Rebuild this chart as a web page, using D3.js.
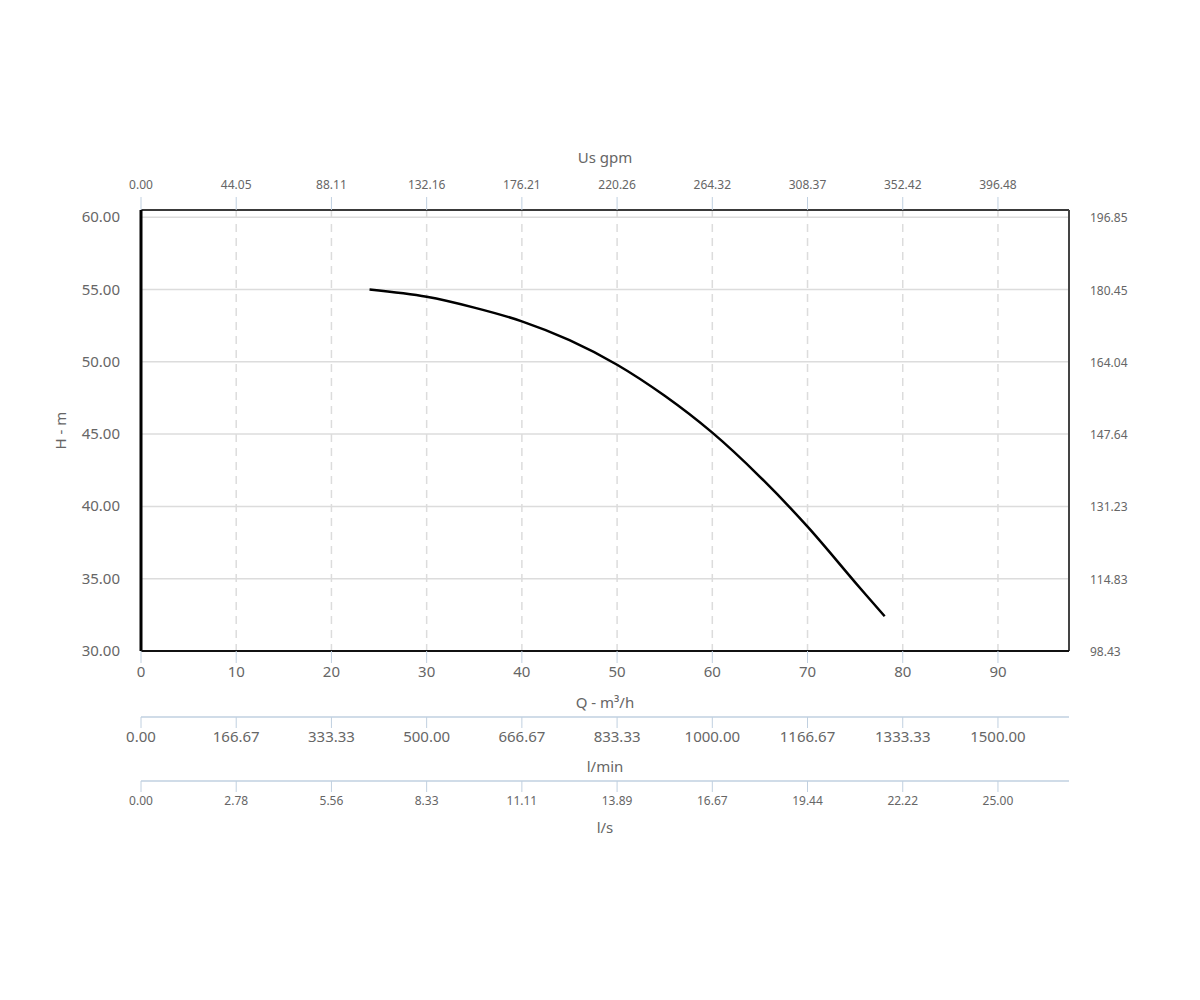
<!DOCTYPE html>
<html>
<head>
<meta charset="utf-8">
<script src="https://cdn.jsdelivr.net/npm/d3@7"></script>
<style>
  body { margin: 0; background: #fff; }
  text { font-family: "Noto Sans", "Open Sans", sans-serif; fill: #666; }
</style>
</head>
<body>
<div id="chart"></div>
<script>
// pump curve, Q in m3/h, H in m
const flow = [24, 30, 35, 40, 45, 50, 55, 60, 65, 70, 75, 78.1];
const head = [55.0, 54.5, 53.75, 52.8, 51.5, 49.8, 47.65, 45.1, 42.05, 38.6, 34.75, 32.4];

const qTicks = [0, 10, 20, 30, 40, 50, 60, 70, 80, 90];
const hTicks = [30, 35, 40, 45, 50, 55, 60];
const gpmLabels = ["0.00", "44.05", "88.11", "132.16", "176.21", "220.26", "264.32", "308.37", "352.42", "396.48"];
const lminLabels = ["0.00", "166.67", "333.33", "500.00", "666.67", "833.33", "1000.00", "1166.67", "1333.33", "1500.00"];
const lsLabels = ["0.00", "2.78", "5.56", "8.33", "11.11", "13.89", "16.67", "19.44", "22.22", "25.00"];
const ftLabels = ["98.43", "114.83", "131.23", "147.64", "164.04", "180.45", "196.85"];

const width = 1200, height = 1000;
const plotL = 141, plotR = 1069, plotT = 210, plotB = 651;
const blue = "#c0d0e0";

const svg = d3.select("#chart").append("svg")
    .attr("width", width)
    .attr("height", height);

const x = d3.scaleLinear().domain([0, 97.46]).range([plotL, plotR]);
const y = d3.scaleLinear().domain([30, 60.5]).range([plotB, plotT]);

// grid
svg.append("g").selectAll("line")
    .data(hTicks)
    .enter().append("line")
    .attr("x1", plotL).attr("x2", plotR)
    .attr("y1", d => y(d)).attr("y2", d => y(d))
    .attr("stroke", "#dcdcdc").attr("stroke-width", 1.5);

svg.append("g").selectAll("line")
    .data(qTicks.slice(1))
    .enter().append("line")
    .attr("x1", d => x(d)).attr("x2", d => x(d))
    .attr("y1", plotT).attr("y2", plotB)
    .attr("stroke", "#dcdcdc").attr("stroke-width", 1.5)
    .attr("stroke-dasharray", "8,6");

// frame
svg.append("line").attr("x1", plotL).attr("x2", plotR).attr("y1", plotT).attr("y2", plotT)
    .attr("stroke", "#3a3a3a").attr("stroke-width", 2);
svg.append("line").attr("x1", plotR).attr("x2", plotR).attr("y1", plotT).attr("y2", plotB)
    .attr("stroke", "#444").attr("stroke-width", 2);

// curve
const line = d3.line()
    .x(d => x(d[0]))
    .y(d => y(d[1]))
    .curve(d3.curveCatmullRom);

svg.append("path")
    .datum(d3.zip(flow, head))
    .attr("d", line)
    .attr("fill", "none")
    .attr("stroke", "#000")
    .attr("stroke-width", 2.5);

// left and bottom axis lines
svg.append("line").attr("x1", plotL).attr("x2", plotL).attr("y1", plotT).attr("y2", plotB)
    .attr("stroke", "#000").attr("stroke-width", 3);
svg.append("line").attr("x1", plotL).attr("x2", plotR).attr("y1", plotB).attr("y2", plotB)
    .attr("stroke", "#111").attr("stroke-width", 2);

// left axis labels (H - m)
svg.append("g").selectAll("text")
    .data(hTicks)
    .enter().append("text")
    .attr("x", 120).attr("y", d => y(d) + 5)
    .attr("text-anchor", "end")
    .style("font-size", "15px")
    .text(d => d.toFixed(2));

svg.append("text")
    .attr("transform", `translate(66,${(plotT + plotB) / 2}) rotate(-90)`)
    .attr("text-anchor", "middle")
    .style("font-size", "15px")
    .text("H - m");

// right axis labels (ft)
svg.append("g").selectAll("text")
    .data(hTicks)
    .enter().append("text")
    .attr("x", 1090).attr("y", d => y(d) + 5)
    .style("font-size", "12px")
    .text((d, i) => ftLabels[i]);

// top axis (Us gpm)
svg.append("g").selectAll("line")
    .data(qTicks)
    .enter().append("line")
    .attr("x1", d => x(d)).attr("x2", d => x(d))
    .attr("y1", plotT - 13).attr("y2", plotT)
    .attr("stroke", blue).attr("stroke-width", 1);
svg.append("g").selectAll("text")
    .data(qTicks)
    .enter().append("text")
    .attr("x", d => x(d)).attr("y", 189)
    .attr("text-anchor", "middle")
    .style("font-size", "12px")
    .text((d, i) => gpmLabels[i]);
svg.append("text")
    .attr("x", (plotL + plotR) / 2).attr("y", 163)
    .attr("text-anchor", "middle")
    .style("font-size", "15px")
    .text("Us gpm");

// bottom axis (Q - m3/h)
svg.append("g").selectAll("line")
    .data(qTicks)
    .enter().append("line")
    .attr("x1", d => x(d)).attr("x2", d => x(d))
    .attr("y1", plotB).attr("y2", plotB + 12)
    .attr("stroke", blue).attr("stroke-width", 1);
svg.append("g").selectAll("text")
    .data(qTicks)
    .enter().append("text")
    .attr("x", d => x(d)).attr("y", 677)
    .attr("text-anchor", "middle")
    .style("font-size", "15px")
    .text(d => d);
svg.append("text")
    .attr("x", (plotL + plotR) / 2).attr("y", 708)
    .attr("text-anchor", "middle")
    .style("font-size", "15px")
    .text("Q - m³/h");

// extra bottom axes
function extraAxis(yLine, labels, labelY, fontSize, title, titleY) {
    const g = svg.append("g");
    g.append("line")
        .attr("x1", plotL).attr("x2", plotR)
        .attr("y1", yLine).attr("y2", yLine)
        .attr("stroke", blue).attr("stroke-width", 1.5);
    g.selectAll("line.tick")
        .data(qTicks)
        .enter().append("line")
        .attr("class", "tick")
        .attr("x1", d => x(d)).attr("x2", d => x(d))
        .attr("y1", yLine).attr("y2", yLine + 11)
        .attr("stroke", blue).attr("stroke-width", 1);
    g.selectAll("text.lbl")
        .data(qTicks)
        .enter().append("text")
        .attr("class", "lbl")
        .attr("x", d => x(d)).attr("y", labelY)
        .attr("text-anchor", "middle")
        .style("font-size", fontSize)
        .text((d, i) => labels[i]);
    g.append("text")
        .attr("x", (plotL + plotR) / 2).attr("y", titleY)
        .attr("text-anchor", "middle")
        .style("font-size", "15px")
        .text(title);
}

extraAxis(717, lminLabels, 742, "15px", "l/min", 772);
extraAxis(781, lsLabels, 805, "12px", "l/s", 833);
</script>
</body>
</html>
